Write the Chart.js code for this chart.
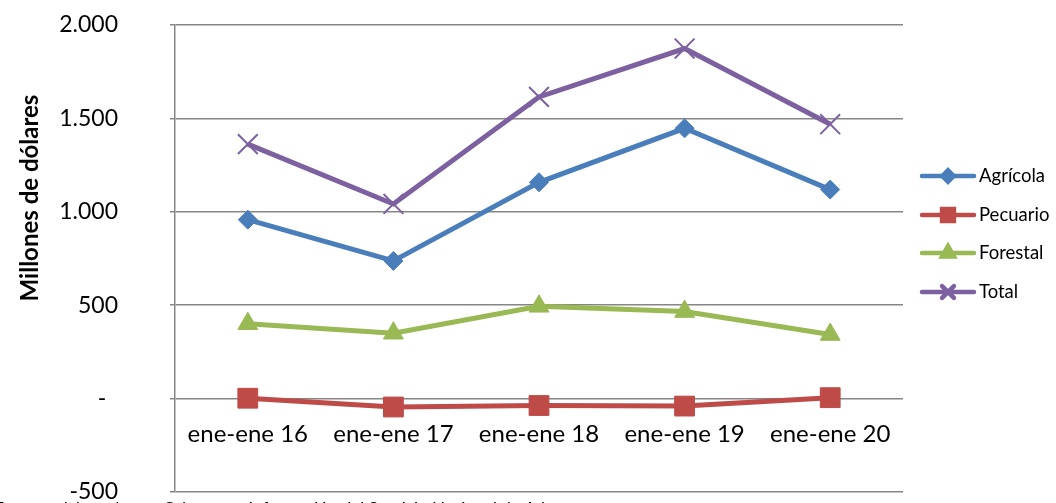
<!DOCTYPE html>
<html>
<head>
<meta charset="utf-8">
<script src="https://cdn.jsdelivr.net/npm/chart.js@4/dist/chart.umd.min.js"></script>
<style>
  html, body { margin: 0; padding: 0; background: #fff; }
  #wrap { width: 1056px; height: 503px; }
</style>
</head>
<body>
<div id="wrap"><canvas id="chart"></canvas></div>
<script>
const categories = ['ene-ene 16', 'ene-ene 17', 'ene-ene 18', 'ene-ene 19', 'ene-ene 20'];
const agricola = [958, 737, 1158, 1447, 1119];
const pecuario = [2, -45, -37, -40, 5];
const forestal = [401, 350, 494, 466, 343];
const total = [1362, 1042, 1615, 1874, 1469];
const yTicks = [-500, 0, 500, 1000, 1500, 2000];
const yTitle = 'Millones de dólares';
const sourceNote = 'Fuente: elaborado por Odepa con información del Servicio Nacional de Aduanas';

const FONT = 'Lato, "Open Sans", sans-serif';

function fmt(v) {
  if (v === 0) return '-  ';
  const s = String(Math.abs(v)).replace(/\B(?=(\d{3})+(?!\d))/g, '.');
  return (v < 0 ? '-' : '') + s;
}

function series(label, data, color, style, radius, bw) {
  return {
    label, data,
    borderColor: color,
    backgroundColor: color,
    borderWidth: 5,
    pointStyle: style,
    pointRadius: radius,
    pointHoverRadius: radius,
    pointBorderWidth: bw,
    pointBorderColor: color,
    pointBackgroundColor: color,
    tension: 0
  };
}

// legend, axis title and source note drawn by hand
const extras = {
  id: 'extras',
  afterDraw(chart) {
    const ctx = chart.ctx;
    ctx.save();
    // y title
    ctx.translate(30, 198);
    ctx.rotate(-Math.PI / 2);
    ctx.font = 'bold 24px ' + FONT;
    ctx.fillStyle = '#000';
    ctx.textAlign = 'center';
    ctx.textBaseline = 'middle';
    ctx.fillText(yTitle, 0, 0);
    ctx.restore();

    // legend
    const ys = [176, 215, 253, 292];
    chart.data.datasets.forEach((ds, i) => {
      const y = ys[i];
      ctx.save();
      ctx.strokeStyle = ds.borderColor;
      ctx.fillStyle = ds.borderColor;
      ctx.lineWidth = 4.5;
      ctx.lineCap = 'round';
      ctx.beginPath();
      ctx.moveTo(922, y);
      ctx.lineTo(974, y);
      ctx.stroke();
      Chart.helpers.drawPoint(ctx, {
        pointStyle: ds.pointStyle,
        radius: ds.pointRadius * 0.6,
        borderWidth: ds.pointBorderWidth,
        rotation: 0
      }, 948, y);
      ctx.fillStyle = '#000';
      ctx.font = '18.5px ' + FONT;
      ctx.textAlign = 'left';
      ctx.textBaseline = 'middle';
      ctx.fillText(ds.label, 979, y);
      ctx.restore();
    });

    // source note, cut at the bottom edge
    ctx.save();
    ctx.font = '17px ' + FONT;
    ctx.fillStyle = '#000';
    ctx.textBaseline = 'alphabetic';
    const off = ctx.measureText('Fuente: elaborado por ').width;
    ctx.fillText(sourceNote, 163 - off, 515);
    ctx.restore();
  }
};

new Chart(document.getElementById('chart'), {
  type: 'line',
  data: {
    labels: categories,
    datasets: [
      series('Agrícola', agricola, '#4a7ebb', 'rectRot', 9.5, 1),
      series('Pecuario', pecuario, '#be4b48', 'rect', 14, 1),
      series('Forestal', forestal, '#98b954', 'triangle', 11.5, 1),
      series('Total', total, '#7d60a0', 'crossRot', 14, 2)
    ]
  },
  options: {
    responsive: true,
    maintainAspectRatio: false,
    animation: false,
    layout: { padding: { top: 25, right: 153, bottom: 11, left: 0 }, autoPadding: false },
    plugins: {
      legend: { display: false },
      tooltip: { enabled: false }
    },
    scales: {
      x: {
        position: { y: 0 },
        offset: true,
        afterFit(scale) { scale.height = 0; },
        grid: { display: false },
        border: { display: false },
        ticks: { color: '#000', font: { family: FONT, size: 24 }, padding: 13, maxRotation: 0 }
      },
      y: {
        min: -500,
        max: 2000,
        afterFit(scale) {
          scale.width = 175;
          scale.paddingTop = 0;
          scale.paddingBottom = 0;
        },
        afterBuildTicks(scale) { scale.ticks = yTicks.map(v => ({ value: v })); },
        grid: { color: '#868686', lineWidth: 1.5, tickLength: 5 },
        border: { color: '#868686', width: 1.5 },
        ticks: {
          color: '#000',
          font: { family: FONT, size: 23 },
          padding: 52,
          callback: v => fmt(v)
        }
      }
    }
  },
  plugins: [extras]
});
</script>
</body>
</html>
